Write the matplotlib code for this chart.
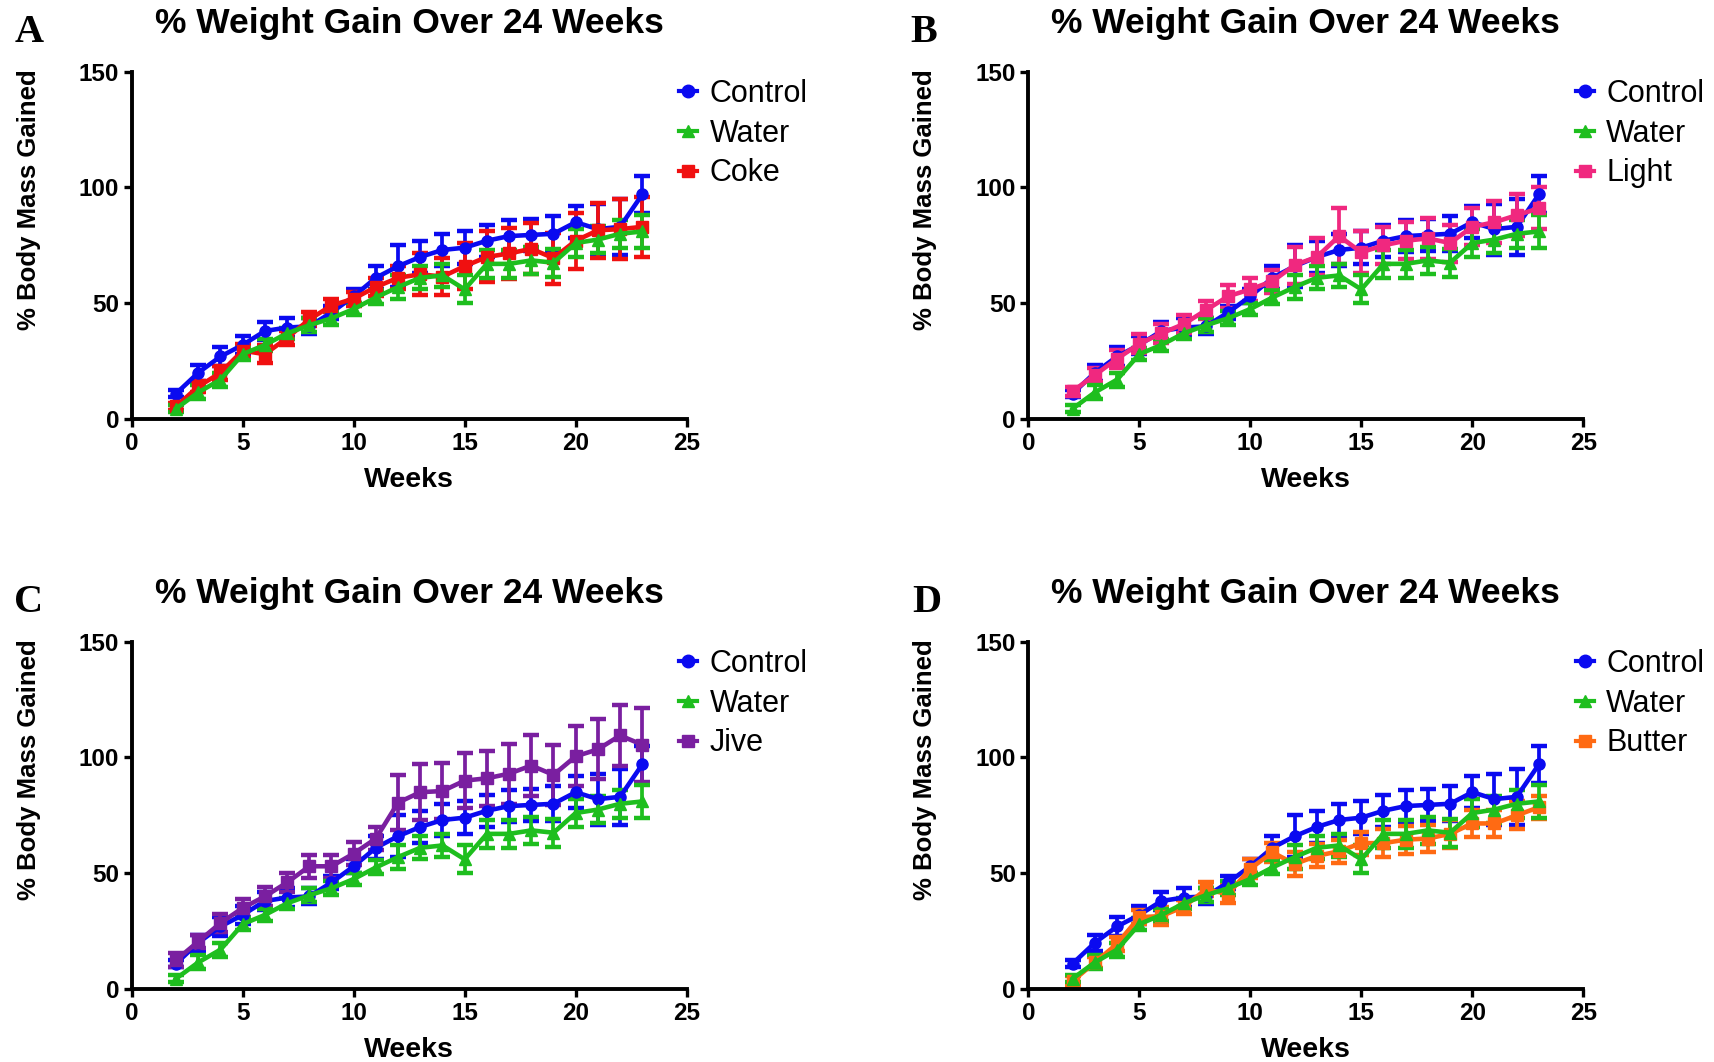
import matplotlib
matplotlib.use("Agg")
import matplotlib.pyplot as plt
from matplotlib.lines import Line2D

weeks = list(range(2, 24))

control = [11, 20, 27, 32, 38, 39.5, 40, 46, 53, 61, 66, 70, 73, 74, 77, 79, 79.5, 80, 85, 82, 83, 97]
control_err = [1.5, 3.5, 4, 4, 4, 4, 3.5, 3, 3, 5, 9, 7, 7, 7, 7, 7, 7, 7.5, 7, 11, 12, 8]

water = [4.5, 11.5, 17, 28, 32, 37, 40.5, 43.5, 47.5, 52.5, 57, 61, 62, 56, 67, 67, 68.5, 67.5, 76, 77.5, 80, 81]
water_err = [1.5, 3, 3, 2.5, 2.5, 2.5, 3, 3, 2.5, 3, 5, 5, 5, 6, 6, 6, 6, 6, 6, 6, 6, 7]

coke = [5.5, 14, 20, 29.5, 28, 35, 43, 49, 52, 57, 61, 62.5, 61.5, 66, 70, 71.5, 73.5, 69.5, 77, 81.5, 82, 83]
coke_err = [1.5, 2.5, 3, 3, 4, 3, 3, 3, 3, 4, 5, 9, 8, 10, 11, 11, 11, 11, 12, 12, 13, 13]

light = [12, 19, 26, 32.5, 37, 41, 47, 53, 56, 59.5, 66.5, 70, 79, 72, 75, 77, 78, 76, 83, 85, 88, 91]
light_err = [2, 3, 4, 4, 4, 4, 4, 5, 5, 5, 8, 8, 12, 9, 8, 8, 9, 8, 8, 9, 9, 9]

jive = [12.5, 20.5, 28.5, 35, 40, 46, 53, 53, 58.5, 65, 80.5, 85, 85.5, 90, 91, 93, 96.5, 92.5, 100.5, 103.5, 109.5, 105.5]
jive_err = [3, 3, 4, 4, 4, 4, 5, 5, 5, 5, 12, 12, 12, 12, 12, 13, 13, 13, 13, 13, 13, 16]

butter = [3.5, 11.5, 19.5, 31, 31.5, 35.5, 43, 41, 52, 59, 54, 57.5, 59.5, 63, 63, 64.5, 65, 67, 71.5, 71.5, 75, 78.5]
butter_err = [2, 2.5, 3, 3, 4, 3, 3, 4, 4, 4, 5, 5, 5, 5, 6, 6, 6, 6, 6, 6, 6, 5]

panel_letters = ["A", "B", "C", "D"]
third_names = ["Coke", "Light", "Jive", "Butter"]
third_values = [coke, light, jive, butter]
third_errs = [coke_err, light_err, jive_err, butter_err]
third_colors = ["#F01010", "#F0287F", "#7A1FA0", "#FF6A13"]

title = "% Weight Gain Over 24 Weeks"
xlabel = "Weeks"
ylabel = "% Body Mass Gained"
xticks = [0, 5, 10, 15, 20, 25]
yticks = [0, 50, 100, 150]

BLUE = "#0A0AF0"
GREEN = "#1EBE1E"

W, H = 1715, 1062
fig = plt.figure(figsize=(W / 100, H / 100), dpi=100)
plt.rcParams['font.family'] = ['Liberation Sans', 'DejaVu Sans']

positions = [(131.7, 71.7), (1028.3, 71.7), (131.7, 641.7), (1028.3, 641.7)]
letter_pos = [(29, 33), (924, 33), (29, 602), (927, 602)]
aw, ah = 555, 347.3

def draw(ax, y, e, color, marker, ms):
    ax.errorbar(weeks, y, yerr=e, color=color, marker=marker, ms=ms, lw=3.3,
                elinewidth=2.7, capsize=6, capthick=3.2, clip_on=False)

for i in range(4):
    lx, ty = positions[i]
    ax = fig.add_axes([lx / W, 1 - (ty + ah) / H, aw / W, ah / H])
    draw(ax, control, control_err, BLUE, "o", 8)
    draw(ax, third_values[i], third_errs[i], third_colors[i], "s", 8)
    draw(ax, water, water_err, GREEN, "^", 8)
    ax.set_xlim(0, 25)
    ax.set_ylim(0, 150)
    ax.set_xticks(xticks)
    ax.set_yticks(yticks)
    for s in ["top", "right"]:
        ax.spines[s].set_visible(False)
    for s in ["left", "bottom"]:
        ax.spines[s].set_linewidth(2.8)
    ax.tick_params(width=2.4, length=6, labelsize=17.5, pad=3)
    for lab in ax.get_xticklabels() + ax.get_yticklabels():
        lab.set_fontweight("bold")
    ax.set_title(title, fontsize=25.5, fontweight="bold", pad=28)
    ax.set_xlabel(xlabel, fontsize=20.5, fontweight="bold")
    ax.xaxis.set_label_coords(0.5, -48 / ah)
    ax.set_ylabel(ylabel, fontsize=18.5, fontweight="bold")
    ax.yaxis.set_label_coords(-91 / aw, 0.633)
    handles = [
        Line2D([], [], color=BLUE, marker="o", ms=9, lw=3),
        Line2D([], [], color=GREEN, marker="^", ms=9, lw=3),
        Line2D([], [], color=third_colors[i], marker="s", ms=9, lw=3),
    ]
    ax.legend(handles, ["Control", "Water", third_names[i]], loc="upper left",
              bbox_to_anchor=(0.975, 0.997), frameon=False, fontsize=22,
              handlelength=0.6, handletextpad=0.4, labelspacing=0.32,
              borderaxespad=0.0, borderpad=0.2)
    lxp, lyp = letter_pos[i]
    fig.text(lxp / W, 1 - lyp / H, panel_letters[i], fontsize=29,
             fontweight="bold", family="Liberation Serif", ha="center", va="center")

fig.savefig("out.png", dpi=100)
